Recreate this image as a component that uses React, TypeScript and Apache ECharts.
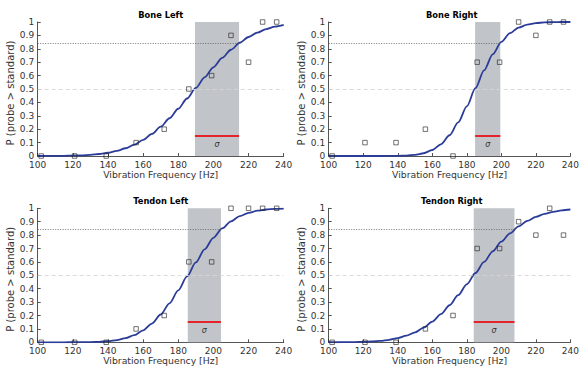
import React, { useEffect, useRef } from "react";
import * as echarts from "echarts";

// Panel titles
const titles = ["Bone Left", "Bone Right", "Tendon Left", "Tendon Right"];

// Stimulus frequencies (Hz) of the measured points
const freqs = [102, 121, 139, 156, 172, 186, 199, 210, 220, 228, 236];

// Measured proportions for each panel
const boneLeftPts = [0, 0, 0, 0.1, 0.2, 0.5, 0.6, 0.9, 0.7, 1, 1];
const boneRightPts = [0, 0.1, 0.1, 0.2, 0, 0.7, 0.7, 1, 0.9, 1, 1];
const tendonLeftPts = [0, 0, 0, 0.1, 0.2, 0.6, 0.6, 1, 1, 1, 1];
const tendonRightPts = [0, 0, 0, 0.1, 0.2, 0.7, 0.7, 0.9, 0.8, 1, 0.8];

// Fitted-curve sample frequencies and values
const curveX = [100, 105, 110, 115, 120, 125, 130, 135, 140, 145, 150, 155, 160, 165, 170, 175, 180, 185, 190, 195, 200, 205, 210, 215, 220, 225, 230, 235, 240];
const boneLeftCurve = [0.0002, 0.0004, 0.0008, 0.0015, 0.0028, 0.0051, 0.0089, 0.015, 0.0243, 0.0381, 0.0578, 0.0846, 0.12, 0.1645, 0.2186, 0.2817, 0.3527, 0.429, 0.508, 0.587, 0.662, 0.732, 0.793, 0.845, 0.888, 0.921, 0.947, 0.965, 0.978];
const boneRightCurve = [0, 0, 0, 0, 0, 0, 0.0001, 0.0003, 0.0011, 0.0032, 0.0087, 0.0207, 0.0446, 0.0875, 0.155, 0.251, 0.371, 0.506, 0.639, 0.758, 0.851, 0.917, 0.958, 0.981, 0.992, 0.997, 0.999, 1, 1];
const tendonLeftCurve = [0, 0, 0, 0.0001, 0.0003, 0.0007, 0.0017, 0.0038, 0.0082, 0.0162, 0.0305, 0.0539, 0.0895, 0.14, 0.2075, 0.291, 0.3875, 0.4916, 0.596, 0.694, 0.78, 0.85, 0.903, 0.941, 0.966, 0.982, 0.991, 0.9957, 0.998];
const tendonRightCurve = [0.0002, 0.0004, 0.0008, 0.0017, 0.0034, 0.0062, 0.011, 0.0188, 0.0312, 0.0492, 0.0748, 0.1095, 0.1546, 0.2104, 0.2766, 0.3515, 0.433, 0.517, 0.6, 0.679, 0.751, 0.813, 0.865, 0.906, 0.936, 0.959, 0.974, 0.985, 0.991];

// Shaded region (PSE to PSE + sigma) for each panel
const shadeStart = [189.5, 184.8, 185.4, 184.0];
const shadeEnd = [214.6, 199.4, 204.3, 207.6];

// Reference levels
const midLevel = 0.5;
const sigmaLevel = 0.84;
const sigmaBarLevel = 0.15;
const sigmaTextLevel = 0.088;

// Axis ticks
const xMin = 100;
const xMax = 240;
const xStep = 20;
const yMin = 0;
const yMax = 1;
const yStep = 0.1;

const pointsAll = [boneLeftPts, boneRightPts, tendonLeftPts, tendonRightPts];
const curvesAll = [boneLeftCurve, boneRightCurve, tendonLeftCurve, tendonRightCurve];

const FONT = "DejaVu Sans";

const grids = [
  { left: 37.7, right: 298.3, top: 22, bottom: 214 },
  { left: 328.7, right: 7.3, top: 22, bottom: 214 },
  { left: 37.7, right: 298.3, top: 208.3, bottom: 27.7 },
  { left: 328.7, right: 7.3, top: 208.3, bottom: 27.7 },
];

export default function App() {
  const ref = useRef<HTMLDivElement>(null);
  useEffect(() => {
    if (!ref.current) return;
    const chart = echarts.init(ref.current, undefined, { renderer: "svg" });
    const axisColor = "#2a2a2a";
    const xAxis: any[] = [];
    const yAxis: any[] = [];
    const series: any[] = [];
    const graphic: any[] = [];
    grids.forEach((g, i) => {
      xAxis.push({
        type: "value",
        gridIndex: i,
        min: xMin,
        max: xMax,
        interval: xStep,
        name: "Vibration Frequency [Hz]",
        nameLocation: "middle",
        nameGap: 13,
        nameTextStyle: { fontFamily: FONT, fontSize: 9.3, color: "#333" },
        axisLine: { lineStyle: { color: axisColor, width: 0.8 } },
        axisTick: { inside: true, length: 3, lineStyle: { color: axisColor, width: 0.8 } },
        axisLabel: { fontFamily: FONT, fontSize: 9, color: "#333", margin: 4 },
        splitLine: { show: false },
      });
      yAxis.push({
        type: "value",
        gridIndex: i,
        min: yMin,
        max: yMax,
        interval: yStep,
        name: "P (probe > standard)",
        nameLocation: "middle",
        nameGap: 18,
        nameTextStyle: { fontFamily: FONT, fontSize: 10, color: "#333", padding: [0, 8, 0, 0] },
        axisLine: { show: true, lineStyle: { color: axisColor, width: 0.8 } },
        axisTick: { show: true, inside: true, length: 3, lineStyle: { color: axisColor, width: 0.8 } },
        axisLabel: {
          fontFamily: FONT,
          fontSize: 9,
          color: "#333",
          margin: 3.5,
          formatter: (v: number) => String(Math.round(v * 10) / 10),
        },
        splitLine: { show: false },
      });
      const a = shadeStart[i];
      const b = shadeEnd[i];
      // reference lines (behind shade)
      series.push({
        type: "line",
        xAxisIndex: i,
        yAxisIndex: i,
        data: [],
        z: 1,
        silent: true,
        markLine: {
          silent: true,
          symbol: ["none", "none"],
          label: { show: false },
          data: [
            { yAxis: midLevel, lineStyle: { color: "#d6d6d6", type: [4, 3], width: 0.9 } },
            [
              { coord: [xMin, sigmaLevel], lineStyle: { color: "#555", type: [1, 1.5], width: 0.8 } },
              { coord: [b, sigmaLevel] },
            ],
          ],
        },
      });
      // shade
      series.push({
        type: "line",
        xAxisIndex: i,
        yAxisIndex: i,
        data: [],
        z: 2,
        silent: true,
        markArea: {
          silent: true,
          itemStyle: { color: "#c1c4c8" },
          data: [[{ coord: [a, yMin] }, { coord: [b, yMax] }]],
        },
      });
      // sigma bar and label
      series.push({
        type: "line",
        xAxisIndex: i,
        yAxisIndex: i,
        data: [],
        z: 3,
        silent: true,
        markLine: {
          silent: true,
          symbol: ["none", "none"],
          label: { show: false },
          lineStyle: { color: "#e5232a", width: 2, type: "solid" },
          data: [[{ coord: [a, sigmaBarLevel] }, { coord: [b, sigmaBarLevel] }]],
        },
        markPoint: {
          silent: true,
          symbol: "circle",
          symbolSize: 1,
          itemStyle: { color: "rgba(0,0,0,0)" },
          label: {
            show: true,
            position: "inside",
            formatter: "σ",
            fontFamily: FONT,
            fontStyle: "italic",
            fontSize: 8,
            color: "#333",
          },
          data: [{ coord: [(a + b) / 2, sigmaTextLevel] }],
        },
      });
      // fitted curve
      series.push({
        type: "line",
        xAxisIndex: i,
        yAxisIndex: i,
        data: curveX.map((x, k) => [x, curvesAll[i][k]]),
        smooth: 0.3,
        smoothMonotone: "x",
        showSymbol: false,
        symbol: "none",
        z: 4,
        lineStyle: { color: "#2b3c98", width: 1.8 },
      });
      // data points
      series.push({
        type: "scatter",
        xAxisIndex: i,
        yAxisIndex: i,
        data: freqs.map((x, k) => [x, pointsAll[i][k]]),
        symbol: "rect",
        symbolSize: 4.5,
        z: 5,
        itemStyle: { color: "rgba(255,255,255,0)", borderColor: "#222", borderWidth: 0.8 },
      });
      const gw = 582 - g.left - g.right;
      graphic.push({
        type: "text",
        x: g.left + gw / 2,
        y: g.top - 7,
        style: {
          text: titles[i],
          font: `bold 8.3px "${FONT}"`,
          fill: "#000",
          align: "center",
          verticalAlign: "middle",
        },
      });
    });
    chart.setOption({
      animation: false,
      backgroundColor: "#fff",
      grid: grids.map((g) => ({ ...g, containLabel: false })),
      xAxis,
      yAxis,
      series,
      graphic,
    });
    return () => chart.dispose();
  }, []);
  return (
    <div
      ref={ref}
      style={{ position: "fixed", left: 0, top: 0, width: 582, height: 370, background: "#fff" }}
    />
  );
}
